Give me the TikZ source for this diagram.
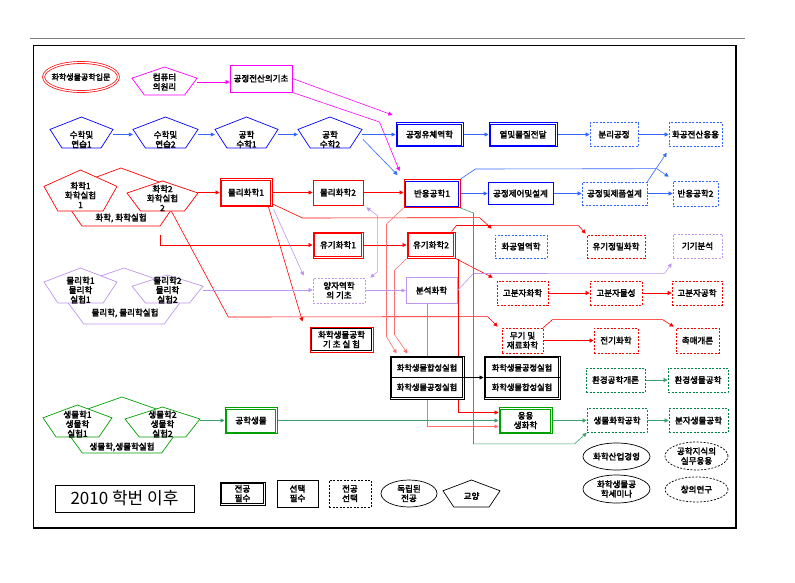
\documentclass[tikz,border=0pt]{standalone}
\usepackage{fontspec}
\setmainfont{Noto Sans CJK KR}[AutoFakeBold=2.5]
\usetikzlibrary{arrows.meta,shapes.geometric,calc}
\definecolor{cred}{RGB}{255,0,0}
\definecolor{cpink}{RGB}{255,110,110}
\definecolor{cmag}{RGB}{255,0,255}
\definecolor{cblue}{RGB}{0,0,255}
\definecolor{cblue2}{RGB}{51,102,255}
\definecolor{clav}{RGB}{190,150,240}
\definecolor{cgreen}{RGB}{0,160,0}
\definecolor{cgreen2}{RGB}{0,130,70}
\definecolor{cteal}{RGB}{60,160,110}
\pgfdeclarelayer{edges}
\pgfdeclarelayer{shapes}
\pgfsetlayers{edges,shapes,main}
\newcommand{\kfont}{\fontsize{8.5}{9.5}\selectfont\bfseries}
% pentagon outline: style, name, centre x, top y, width, height
\newcommand{\pentshape}[6][]{%
  \begin{pgfonlayer}{shapes}
  \draw[line width=0.7pt, fill=white, #1] (#3,#4) coordinate (#2-n)
    -- (#3+#5/2,#4+0.4*#6) coordinate (#2-e)
    -- (#3+0.31*#5,#4+#6) coordinate (#2-se)
    -- (#3-0.31*#5,#4+#6) coordinate (#2-sw)
    -- (#3-#5/2,#4+0.4*#6) coordinate (#2-w) -- cycle;
  \end{pgfonlayer}}
% inner line of a double box
\newcommand{\dblframe}[2]{\draw[#2, line width=0.5pt] ([shift={(2,-2)}]#1.south west) rectangle ([shift={(-2,2)}]#1.north east);}

\begin{document}
\begin{tikzpicture}[x=1pt, y=-1pt,
  every node/.style={font=\kfont, inner sep=1pt, align=center},
  reqbox/.style={draw=#1, line width=1pt, fill=white},
  selbox/.style={draw=#1, line width=0.9pt, fill=white},
  optbox/.style={draw=#1, line width=0.7pt, dash pattern=on 2pt off 1.5pt, fill=white},
  indepbox/.style={ellipse, draw, line width=0.7pt, inner sep=-1pt, fill=white},
  ptext/.style={inner sep=0pt},
  flow/.style={-{Triangle[length=4pt,width=4pt]}, line width=0.6pt},
  flowboth/.style={{Triangle[length=4pt,width=4pt]}-{Triangle[length=4pt,width=4pt]}, line width=0.6pt}
]
\useasboundingbox (0,0) rectangle (795,582);

% frame
\draw[gray, line width=0.5pt] (30,38) -- (745,38);
\draw[line width=0.6pt] (33,45) rectangle (736,528);
\draw[line width=2pt] (736,45) -- (736,528) -- (33,528);

% first row
\node[indepbox, draw=cred, double, double distance=1.3pt, minimum width=72pt, minimum height=29pt, inner sep=-3pt, font=\fontsize{8}{9}\selectfont\bfseries] (intro) at (81,77) {화학생물공학입문};
\pentshape[draw=cmag]{compP}{164.5}{67}{65}{28}
\node[ptext, minimum width=65pt] (comp) at (164.5,82) {컴퓨터\\의원리};
\node[selbox=cmag, minimum width=62pt, minimum height=27pt] (procomp) at (261,78.5) {공정전산의기초};

% mathematics
\pentshape[draw=cblue]{m1}{81.5}{117}{63}{31}
\pentshape[draw=cblue]{m2}{165.5}{117}{65}{31}
\pentshape[draw=cblue]{m3}{246.5}{117}{63}{31}
\pentshape[draw=cblue]{m4}{330}{117}{64}{31}
\node[ptext, minimum width=63pt] (math1) at (81.5,139.5) {수학및\\연습1};
\node[ptext, minimum width=65pt] (math2) at (165.5,139.5) {수학및\\연습2};
\node[ptext, minimum width=63pt] (math3) at (246.5,139.5) {공학\\수학1};
\node[ptext, minimum width=64pt] (math4) at (330,139.5) {공학\\수학2};
\node[reqbox=cblue, minimum width=67pt, minimum height=24pt] (fluid) at (429.5,134.5) {공정유체역학};
\dblframe{fluid}{cblue}
\node[reqbox=cblue, minimum width=68pt, minimum height=24pt] (heat) at (523,134.5) {열및물질전달};
\dblframe{heat}{cblue}
\node[optbox=cblue2, minimum width=48pt, minimum height=24pt] (sep) at (614,134.5) {분리공정};
\node[optbox=cblue2, minimum width=53pt, minimum height=24pt] (cecomp) at (695.5,134.5) {화공전산응용};

% chemistry
\pentshape[draw=cred]{chemG}{121}{168}{126}{58}
\pentshape[draw=cred]{chemA}{80.5}{170}{73}{41}
\pentshape[draw=cred]{chemB}{162.5}{181}{71}{30}
\node[ptext, minimum width=73pt] (chem1) at (80.5,195) {화학1\\화학실험\\1};
\node[ptext, minimum width=71pt] (chem2) at (162.5,198) {화학2\\화학실험\\2};
\node[ptext] (chemT) at (121,218) {화학, 화학실험};
\node[reqbox=cred, minimum width=52pt, minimum height=28pt] (pchem1) at (246,192.5) {물리화학1};
\dblframe{pchem1}{cred}
\node[selbox=cred, minimum width=50pt, minimum height=25pt] (pchem2) at (338,192.5) {물리화학2};
\node[reqbox=cred, minimum width=56pt, minimum height=28pt] (rxn1) at (432,193.5) {반응공학1};
\dblframe{rxn1}{cblue}
\node[selbox=cblue, minimum width=65pt, minimum height=22pt] (control) at (520.5,193.5) {공정제어및설계};
\node[optbox=cblue2, minimum width=65pt, minimum height=23pt] (design) at (614.5,193.5) {공정및제품설계};
\node[optbox=cblue2, minimum width=45pt, minimum height=25pt] (rxn2) at (695.5,193.5) {반응공학2};

\node[reqbox=cred, minimum width=50pt, minimum height=26pt] (org1) at (338,245) {유기화학1};
\dblframe{org1}{cred}
\node[reqbox=cred, minimum width=48pt, minimum height=26pt] (org2) at (431,245) {유기화학2};
\dblframe{org2}{cred}
\node[optbox=cblue2, minimum width=52pt, minimum height=23pt] (thermo) at (521,246.5) {화공열역학};
\node[optbox=cred, minimum width=58pt, minimum height=23pt] (finechem) at (616,246.5) {유기정밀화학};
\node[optbox=clav, minimum width=49pt, minimum height=24pt] (instr) at (697.5,246) {기기분석};

% physics
\pentshape[draw=clav]{physG}{124}{268}{130}{56}
\pentshape[draw=clav]{physA}{80.5}{268}{73}{35}
\pentshape[draw=clav]{physB}{167.5}{275}{71}{28}
\node[ptext, minimum width=73pt] (phys1) at (80.5,290) {물리학1\\물리학\\실험1};
\node[ptext, minimum width=71pt] (phys2) at (167.5,290) {물리학2\\물리학\\실험2};
\node[ptext] (physT) at (125,313) {물리학, 물리학실험};
\node[optbox=clav, minimum width=52pt, minimum height=25pt] (quantum) at (339,290.5) {양자역학\\의 기초};
\node[selbox=clav, minimum width=51pt, minimum height=26pt] (anal) at (431.5,290.5) {분석화학};
\node[optbox=cred, minimum width=51pt, minimum height=24pt] (poly1) at (522.5,293) {고분자화학};
\node[optbox=cred, minimum width=52pt, minimum height=24pt] (poly2) at (616,293) {고분자물성};
\node[optbox=cred, minimum width=50pt, minimum height=24pt] (poly3) at (697,293) {고분자공학};

\node[reqbox=cred, minimum width=63pt, minimum height=25pt] (baselab) at (341.5,339.5) {화학생물공학\\기 초 실 험};
\dblframe{baselab}{black}
\node[optbox=cred, minimum width=41pt, minimum height=25pt] (inorg) at (522.5,340.5) {무기 및\\재료화학};
\node[optbox=cred, minimum width=44pt, minimum height=25pt] (electro) at (616,340.5) {전기화학};
\node[optbox=cred, minimum width=43pt, minimum height=25pt] (catal) at (697.5,340.5) {촉매개론};

% laboratories
\node[reqbox=black, minimum width=74pt, minimum height=43pt, font=\fontsize{8.2}{9.5}\selectfont\bfseries] (labA) at (427,377.5) {화학생물합성실험\\[10pt]화학생물공정실험};
\dblframe{labA}{black}
\draw[line width=0.5pt] (labA.west) -- (labA.east);
\node[reqbox=black, minimum width=76pt, minimum height=43pt, font=\fontsize{8.2}{9.5}\selectfont\bfseries] (labB) at (522,377.5) {화학생물공정실험\\[10pt]화학생물합성실험};
\dblframe{labB}{black}
\draw[line width=0.5pt] (labB.west) -- (labB.east);
\node[optbox=cgreen2, minimum width=59pt, minimum height=24pt] (env1) at (615.5,380) {환경공학개론};
\node[optbox=cgreen2, minimum width=60pt, minimum height=24pt] (env2) at (698,380) {환경생물공학};

% biology
\pentshape[draw=cgreen]{bioG}{122}{397}{128}{56}
\pentshape[draw=cgreen]{bioA}{77.5}{405}{69}{32}
\pentshape[draw=cgreen]{bioB}{162.5}{407}{75}{30}
\node[ptext, minimum width=69pt] (bio1) at (77.5,424) {생물학1\\생물학\\실험1};
\node[ptext, minimum width=75pt] (bio2) at (162.5,424) {생물학2\\생물학\\실험2};
\node[ptext] (bioT) at (122,447) {생물학,생물학실험};
\node[reqbox=cgreen, minimum width=52pt, minimum height=26pt] (engbio) at (251,420.5) {공학생물};
\dblframe{engbio}{cgreen}
\node[reqbox=cgreen, minimum width=53pt, minimum height=26pt] (appbio) at (525.5,420.5) {응용\\생화학};
\dblframe{appbio}{cgreen}
\node[optbox=cgreen2, minimum width=60pt, minimum height=24pt] (biochem) at (617,420.5) {생물화학공학};
\node[optbox=cgreen2, minimum width=59pt, minimum height=24pt] (molbio) at (698.5,420.5) {분자생물공학};

% independent majors
\node[indepbox, minimum width=67pt, minimum height=27pt] (mgmt) at (616.5,456.5) {화학산업경영};
\node[indepbox, dash pattern=on 2pt off 1.5pt, minimum width=63pt, minimum height=28pt] (practice) at (696.5,456) {공학지식의\\실무응용};
\node[indepbox, minimum width=67pt, minimum height=28pt] (seminar) at (616.5,489) {화학생물공\\학세미나};
\node[indepbox, dash pattern=on 2pt off 1.5pt, minimum width=63pt, minimum height=25pt] (creative) at (696.5,489.5) {창의연구};

% legend
\node[selbox=black, line width=1pt, minimum width=139pt, minimum height=27pt, font=\fontsize{17}{19}\selectfont] (since) at (124.5,498.5) {2010 학번 이후};
\node[reqbox=black, minimum width=45pt, minimum height=23pt] (legMust) at (242.5,493.5) {전공\\필수};
\dblframe{legMust}{black}
\node[selbox=black, minimum width=41pt, minimum height=27pt] (legSel) at (297.5,493.5) {선택\\필수};
\node[optbox=black, minimum width=42pt, minimum height=27pt] (legOpt) at (350,493.5) {전공\\선택};
\node[indepbox, minimum width=56pt, minimum height=27pt] (legInd) at (409,493.5) {독립된\\전공};
\pentshape[draw=black]{genP}{471.5}{480}{57}{27}
\node[ptext] (legGen) at (471.5,496) {교양};

% connectors
\begin{pgfonlayer}{edges}
\draw[flow, cmag] (comp.east) -- (procomp.west |- comp.east);
\draw[flow, cmag] (procomp.east) -- ([shift={(-3,-7)}]fluid.north west);
\draw[flow, cmag] (procomp.south east) -- ([shift={(-16,0)}]fluid.north west) -- ([shift={(-4,-8)}]rxn1.north west);

\draw[flow, cblue2] ([shift={(0,-5)}]math1.east) -- ([shift={(0,-5)}]math2.west);
\draw[flow, cblue2] ([shift={(0,-5)}]math2.east) -- ([shift={(0,-5)}]math3.west);
\draw[flow, cblue2] ([shift={(0,-5)}]math3.east) -- ([shift={(0,-5)}]math4.west);
\draw[flow, cblue2] ([shift={(0,-5)}]math4.east) -- (fluid.west);
\draw[flow, cblue2] (fluid) -- (heat);
\draw[flow, cblue2] (heat) -- (sep);
\draw[flow, cblue2] (sep) -- (cecomp);
\draw[flow, cblue2] ([shift={(1,10)}]m4-e) -- ([shift={(-6,-4)}]rxn1.north west);
\draw[flow, cblue2] (rxn1) -- (control);
\draw[flow, cblue2] (control) -- (design);
\draw[flow, cblue2] (design) -- (rxn2);
\draw[flow, cblue2] (rxn1.north east) -- ++(15,-10) -- ([shift={(-16,-12)}]rxn2.north west) -- ([shift={(-4,-4)}]rxn2.north west);
\draw[flow, cblue2] (design.north east) -- ([shift={(-2,6)}]cecomp.south west);

\draw[flow, cred] (chem1.east) -- (chem2.west |- chem1.east);
\draw[flow, cred] (chem2.east |- pchem1.west) -- (pchem1.west);
\draw[flow, cred] (pchem1) -- (pchem2);
\draw[flow, cred] (pchem2.east) -- (rxn1.west |- pchem2.east);
\draw[flow, cred] ([shift={(0,9)}]chemG-se) |- (org1.west);
\draw[flow, cred] (org1) -- (org2);
\draw[flow, cred] ([shift={(-2,-4)}]pchem1.south east) -- ++(32,15) -- ([shift={(-15,-17)}]thermo.north west) -- ([shift={(-3,-6)}]thermo.north west);
\draw[flow, cred] ([shift={(-4,0)}]org2.north east) -- ++(5,-6) -- ([shift={(-8,-9)}]finechem.north west) -- ([shift={(-1,-1)}]finechem.north west);
\draw[flow, cred] (org2.south east) -- ([shift={(-4,-3)}]poly1.north west);
\draw[flow, cred] (poly1) -- (poly2);
\draw[flow, cred] (poly2) -- (poly3);
\draw[flow, cred] ([shift={(-4,0)}]pchem1.south east) -- ([shift={(-7,-5)}]baselab.north west);
\draw[flow, cred] ($(chemB-sw)!0.7!(chemB-se)$) -- ++(57,106) -- ([shift={(-14,-11)}]inorg.north west) -- ([shift={(-4,-1)}]inorg.north west);
\draw[flow, cred] (inorg) -- (electro);
\draw[flow, cred] (inorg.north east) -- ++(9,-8) -- ([shift={(-13,-8)}]catal.north west) -- ([shift={(-2,-1)}]catal.north west);
\draw[flow, cpink] (rxn1.south west) -- ++(-17,16) -- ([shift={(-3,-19)}]labA.north west) -- ([shift={(7,-2)}]labA.north west);
\draw[flow, cpink] (org2.south west) -- ++(-12,12) -- ([shift={(5,-21)}]labA.north west) -- ([shift={(18,-2)}]labA.north west);
\draw[flow, cpink] ([shift={(-4,0)}]anal.south) |- ([shift={(0,6)}]appbio.west);
\draw[flow, cred] ([shift={(3,0)}]org2.south east) |- ([shift={(0,-8)}]appbio.west);

\draw[flow, clav] ([shift={(1,2)}]pchem1.south east) -- ([shift={(-9,-2)}]quantum.north west);
\draw[flowboth, clav] ([shift={(5,0)}]quantum.north east) -- ++(7,-6) -- ([shift={(14,10)}]pchem2.south east) -- ([shift={(3,2)}]pchem2.south east);
\draw[flow, clav] (phys1.east) -- (phys2.west);
\draw[flow, clav] (phys2.east) -- (quantum.west |- phys2.east);
\draw[flow, clav] (quantum) -- (anal);
\draw[flow, clav] (anal.east) -- ++(16,-17) -- ([shift={(-8,15)}]instr.south west) -- ([shift={(-1,5)}]instr.south west);

\draw[flow, cteal] (rxn1.south east) -- ++(13,5) |- ([shift={(-12,11)}]biochem.south west) -- (biochem.south west);
\draw[flow, black] (labA) -- (labB);
\draw[flow, cgreen] (bio1.east) -- (bio2.west);
\draw[flow, cteal] (bio2.east |- engbio.west) -- (engbio.west);
\draw[flow, cteal] (engbio) -- (appbio);
\draw[flow, cteal] (appbio) -- (biochem);
\draw[flow, cteal] (biochem) -- (molbio);
\draw[flow, cteal] (env1) -- (env2);
\end{pgfonlayer}
\end{tikzpicture}
\end{document}
